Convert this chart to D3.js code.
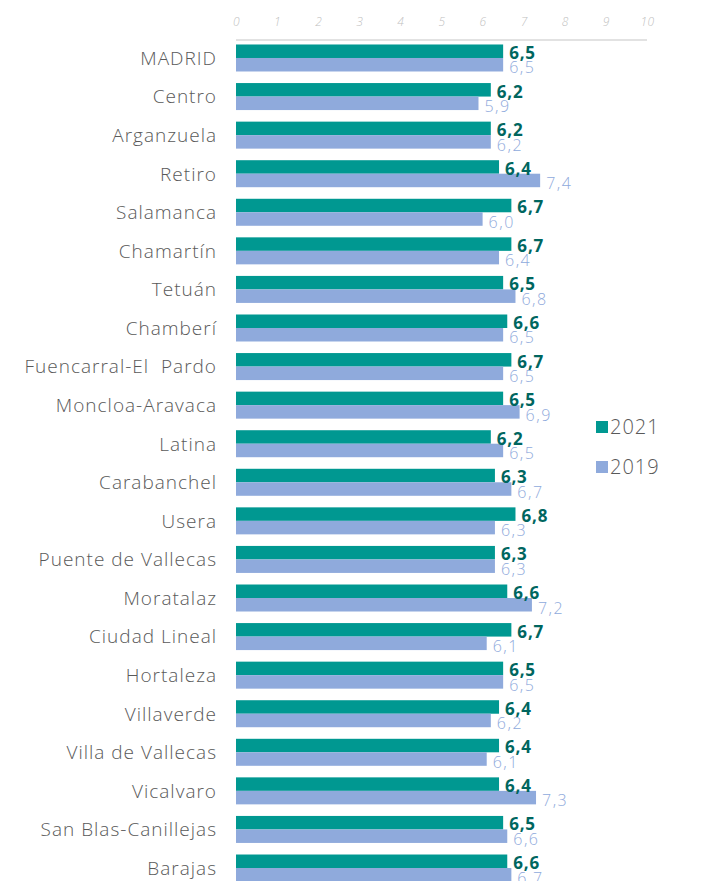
<!DOCTYPE html>
<html>
<head>
<meta charset="utf-8">
<script src="https://cdn.jsdelivr.net/npm/d3@7"></script>
<style>
  body { margin: 0; background: #fff; }
  text { font-family: "Open Sans", "Lato", sans-serif; }
</style>
</head>
<body>
<svg id="chart" width="724" height="881"></svg>
<script>
var districts = ["MADRID", "Centro", "Arganzuela", "Retiro", "Salamanca", "Chamartín", "Tetuán",
    "Chamberí", "Fuencarral-El  Pardo", "Moncloa-Aravaca", "Latina", "Carabanchel", "Usera",
    "Puente de Vallecas", "Moratalaz", "Ciudad Lineal", "Hortaleza", "Villaverde",
    "Villa de Vallecas", "Vicalvaro", "San Blas-Canillejas", "Barajas"];
var values2021 = [6.5, 6.2, 6.2, 6.4, 6.7, 6.7, 6.5, 6.6, 6.7, 6.5, 6.2, 6.3, 6.8, 6.3, 6.6, 6.7, 6.5, 6.4, 6.4, 6.4, 6.5, 6.6];
var values2019 = [6.5, 5.9, 6.2, 7.4, 6.0, 6.4, 6.8, 6.5, 6.5, 6.9, 6.5, 6.7, 6.3, 6.3, 7.2, 6.1, 6.5, 6.2, 6.1, 7.3, 6.6, 6.7];
var seriesNames = ["2021", "2019"];
var xTicks = [0, 1, 2, 3, 4, 5, 6, 7, 8, 9, 10];

var colors = { "2021": "#009891", "2019": "#8faadc" };
var labelColors = { "2021": "#00665f", "2019": "#8faadc" };

var svg = d3.select("#chart");

var x = d3.scaleLinear().domain([0, 10]).range([236, 647]);
var y = d3.scaleBand().domain(districts).range([38.7, 887.3]).paddingInner(0.3).paddingOuter(0.15);
var ySub = d3.scaleBand().domain(seriesNames).range([0, y.bandwidth()]);

var fmt = function (v) { return d3.format(".1f")(v).replace(".", ","); };

// top axis
var axis = d3.axisTop(x).tickValues(xTicks).tickSize(0).tickPadding(0);
var axisG = svg.append("g").attr("transform", "translate(0,26)").call(axis);
axisG.select(".domain").remove();
axisG.selectAll("text")
    .attr("fill", "#bfbfbf")
    .style("font-size", "12px")
    .style("font-style", "italic")
    .style("font-weight", "300")
    .style("letter-spacing", "0.5px")
    .attr("dy", 0);
svg.append("line")
    .attr("x1", x(0)).attr("x2", x(10))
    .attr("y1", 40).attr("y2", 40)
    .attr("stroke", "#d9d9d9").attr("stroke-width", 1.5);

var rows = districts.map(function (d, i) {
    return { name: d, "2021": values2021[i], "2019": values2019[i] };
});

var row = svg.append("g").selectAll("g")
    .data(rows)
    .enter().append("g")
    .attr("transform", function (d) { return "translate(0," + y(d.name) + ")"; });

row.append("text")
    .attr("x", 217)
    .attr("y", y.bandwidth() / 2)
    .attr("dy", "0.36em")
    .attr("text-anchor", "end")
    .attr("fill", "#595959")
    .style("font-size", "19px")
    .style("font-weight", "300")
    .style("letter-spacing", "1px")
    .style("white-space", "pre")
    .text(function (d) { return d.name; });

seriesNames.forEach(function (s) {
    row.append("rect")
        .attr("x", x(0))
        .attr("y", ySub(s))
        .attr("width", function (d) { return x(d[s]) - x(0); })
        .attr("height", ySub.bandwidth())
        .attr("fill", colors[s]);
});

// 2019 labels first, 2021 on top
row.append("text")
    .attr("x", function (d) { return x(d["2019"]) + 6; })
    .attr("y", ySub("2019") + ySub.bandwidth() + 2)
    .attr("fill", labelColors["2019"])
    .style("font-size", "16px")
    .style("font-weight", "300")
    .style("letter-spacing", "1.5px")
    .text(function (d) { return fmt(d["2019"]); });

row.append("text")
    .attr("x", function (d) { return x(d["2021"]) + 6; })
    .attr("y", ySub("2021") + ySub.bandwidth() + 1)
    .attr("fill", labelColors["2021"])
    .style("font-size", "17px")
    .style("font-weight", "bold")
    .style("letter-spacing", "0.8px")
    .text(function (d) { return fmt(d["2021"]); });

// legend
var legend = svg.append("g").selectAll("g")
    .data(seriesNames)
    .enter().append("g")
    .attr("transform", function (d, i) { return "translate(596," + (427 + i * 40) + ")"; });
legend.append("rect")
    .attr("x", 0).attr("y", -6)
    .attr("width", 12).attr("height", 12)
    .attr("fill", function (d) { return colors[d]; });
legend.append("text")
    .attr("x", 14).attr("y", 0).attr("dy", "0.36em")
    .attr("fill", "#595959")
    .style("font-size", "20px")
    .style("font-weight", "300")
    .style("letter-spacing", "1px")
    .text(function (d) { return d; });
</script>
</body>
</html>
